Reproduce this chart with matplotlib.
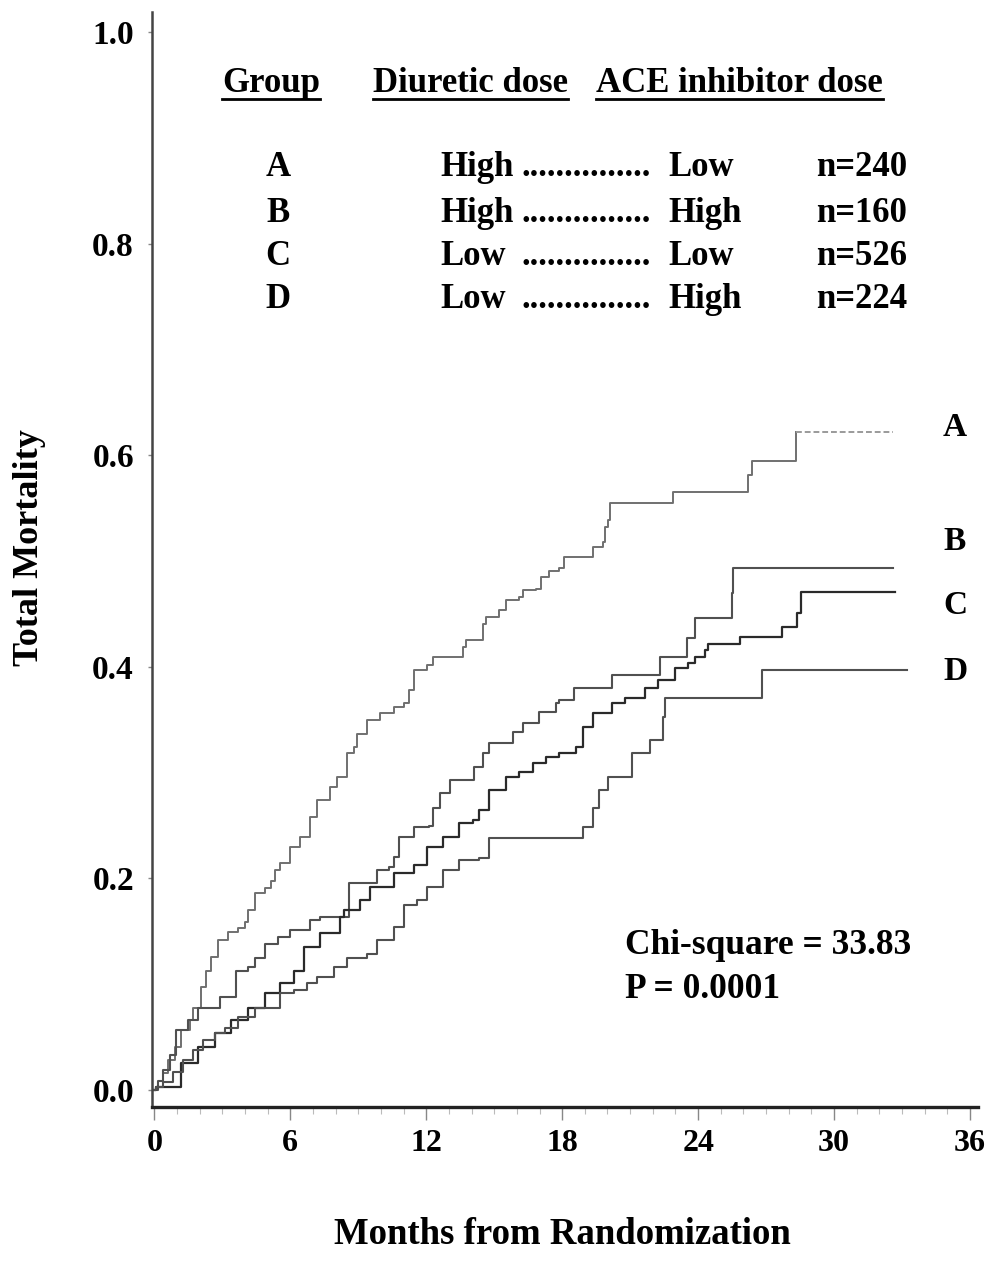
import matplotlib
matplotlib.use("Agg")
import matplotlib.pyplot as plt
from matplotlib.lines import Line2D
import numpy as np

plt.rcParams['font.family'] = ['Liberation Serif', 'DejaVu Serif']
plt.rcParams['font.weight'] = 'bold'

# ---------------- data (months, cumulative mortality) ----------------
a_t = [0, 0.09, 0.39, 0.61, 0.92, 1.18, 1.58, 1.71, 2.06, 2.28, 2.50, 2.81, 3.25, 3.68, 3.99,
       4.12, 4.43, 4.87, 5.13, 5.31, 5.57, 6.01, 6.45, 6.89, 7.19, 7.76, 8.07, 8.51, 8.82,
       8.95, 9.39, 9.96, 10.57, 11.01, 11.23, 11.45, 12.02, 12.32, 13.64, 13.77, 14.52,
       14.65, 15.22, 15.53, 16.10, 16.27, 16.84, 17.06, 17.41, 17.85, 18.07, 19.34, 19.78,
       19.91, 20.04, 20.13, 22.89, 26.18, 26.36, 28.33]
a_v = [0, 0.003, 0.016, 0.028, 0.041, 0.057, 0.066, 0.078, 0.097, 0.113, 0.126, 0.142, 0.149,
       0.153, 0.159, 0.170, 0.186, 0.191, 0.198, 0.208, 0.215, 0.230, 0.239, 0.258, 0.274,
       0.286, 0.296, 0.319, 0.324, 0.337, 0.350, 0.356, 0.362, 0.366, 0.378, 0.397, 0.402,
       0.409, 0.419, 0.425, 0.441, 0.447, 0.454, 0.463, 0.466, 0.473, 0.474, 0.485, 0.491,
       0.493, 0.504, 0.513, 0.518, 0.532, 0.539, 0.555, 0.565, 0.581, 0.595, 0.622]
a_end = 32.6

b_t = [0, 0.18, 0.39, 0.70, 0.96, 1.49, 1.93, 2.89, 3.60, 4.12, 4.43, 4.87, 5.44, 6.01, 6.89,
       7.32, 8.60, 9.82, 10.35, 10.57, 10.79, 11.45, 12.11, 12.32, 12.59, 13.03, 14.12,
       14.52, 14.78, 15.83, 16.27, 16.97, 17.72, 17.85, 18.51, 20.22, 22.32, 23.51, 23.86,
       25.48, 25.53]
b_v = [0, 0.009, 0.019, 0.033, 0.057, 0.066, 0.078, 0.088, 0.113, 0.116, 0.125, 0.138, 0.145,
       0.151, 0.161, 0.164, 0.196, 0.208, 0.211, 0.220, 0.239, 0.249, 0.250, 0.267, 0.281,
       0.293, 0.305, 0.319, 0.328, 0.338, 0.347, 0.357, 0.366, 0.369, 0.380, 0.392, 0.409,
       0.427, 0.446, 0.470, 0.493]
b_end = 32.6

c_t = [0, 0.09, 1.18, 1.93, 2.68, 3.38, 4.12, 4.87, 5.57, 6.18, 6.62, 7.32, 8.20, 8.38, 9.08,
       9.52, 10.57, 11.45, 12.02, 12.76, 13.46, 14.08, 14.34, 14.78, 15.53, 16.10, 16.71,
       17.28, 17.85, 18.60, 18.90, 19.34, 20.22, 20.79, 21.67, 22.24, 22.98, 23.55, 23.86,
       24.30, 24.43, 25.83, 27.68, 28.38, 28.55]
c_v = [0, 0.003, 0.026, 0.041, 0.054, 0.066, 0.078, 0.092, 0.101, 0.113, 0.135, 0.148, 0.164,
       0.170, 0.180, 0.192, 0.205, 0.213, 0.230, 0.239, 0.252, 0.255, 0.265, 0.284, 0.296,
       0.301, 0.309, 0.315, 0.319, 0.324, 0.343, 0.356, 0.366, 0.371, 0.380, 0.388, 0.399,
       0.404, 0.409, 0.416, 0.422, 0.428, 0.438, 0.451, 0.471]
c_end = 32.7

d_t = [0, 0.09, 0.39, 0.83, 1.27, 1.71, 2.15, 2.68, 3.11, 3.68, 4.43, 5.57, 6.18, 6.75, 7.19,
       7.94, 8.51, 9.39, 9.82, 10.57, 11.01, 11.58, 12.02, 12.76, 13.46, 14.34, 14.78,
       18.90, 19.34, 19.61, 20.04, 21.10, 21.89, 22.46, 22.54, 26.80]
d_v = [0, 0.003, 0.008, 0.017, 0.028, 0.038, 0.047, 0.054, 0.059, 0.069, 0.078, 0.092, 0.095,
       0.101, 0.107, 0.116, 0.125, 0.129, 0.142, 0.154, 0.175, 0.180, 0.192, 0.208, 0.217,
       0.219, 0.238, 0.249, 0.267, 0.284, 0.296, 0.319, 0.331, 0.353, 0.371, 0.397]
d_end = 33.2

groups = ['A', 'B', 'C', 'D']
diuretic = ['High', 'High', 'Low', 'Low']
ace = ['Low', 'High', 'Low', 'High']
n_sizes = [240, 160, 526, 224]
x_ticks = [0, 6, 12, 18, 24, 30, 36]
y_ticks = [0.0, 0.2, 0.4, 0.6, 0.8, 1.0]
chi_square = 33.83
p_value = '0.0001'

# ---------------- figure ----------------
W, H = 988, 1277
fig = plt.figure(figsize=(W / 100, H / 100), dpi=100)
ax = fig.add_axes([152 / W, 1 - 1107 / H, (978 - 152) / W, (1107 - 12) / H])

def fx(px):
    return px / W

def fy(py):
    return 1 - py / H

# A: solid until last jump, dotted tail (censored)
ax.step(a_t, a_v, where='post', color='#707070', lw=1.4)
ax.plot([a_t[-1], a_end], [a_v[-1], a_v[-1]], color='#9a9a9a', lw=1.4, ls=(0, (3, 1.5)))
ax.step(b_t + [b_end], b_v + [b_v[-1]], where='post', color='#505050', lw=1.5)
ax.step(c_t + [c_end], c_v + [c_v[-1]], where='post', color='#2a2a2a', lw=1.6)
ax.step(d_t + [d_end], d_v + [d_v[-1]], where='post', color='#505050', lw=1.5)

ax.set_xlim(-0.1, 36.35)
ax.set_ylim(-0.016, 1.019)
ax.spines['top'].set_visible(False)
ax.spines['right'].set_visible(False)
ax.spines['bottom'].set_linewidth(2.4)
ax.spines['left'].set_linewidth(1.8)
ax.spines['bottom'].set_color('#222222')
ax.spines['left'].set_color('#444444')

ax.set_xticks(x_ticks)
ax.set_xticklabels([str(t) for t in x_ticks])
ax.set_xticks(np.arange(0, 37, 1), minor=True)
ax.set_yticks(y_ticks)
ax.set_yticklabels([f'{v:.1f}' for v in y_ticks])
ax.tick_params(axis='x', which='major', direction='out', length=9, width=1.0,
               color='#888888', labelsize=23, pad=7)
ax.tick_params(axis='x', which='minor', direction='out', length=5, width=0.8,
               color='#bbbbbb')
ax.tick_params(axis='y', which='major', direction='out', length=3, width=1.0,
               color='#888888', labelsize=24, pad=10)
for lab in ax.get_xticklabels() + ax.get_yticklabels():
    lab.set_fontweight('bold')

fig.text(fx(30), fy(548), 'Total Mortality', rotation=90, ha='center', va='center',
         fontsize=26, fontweight='bold')
fig.text(fx(562), fy(1235), 'Months from Randomization', ha='center', va='center',
         fontsize=26.5, fontweight='bold')

# curve end labels
end_label_y = [428, 541, 606, 672]
for g, py in zip(groups, end_label_y):
    fig.text(fx(955), fy(py), g, ha='center', va='center', fontsize=24, fontweight='bold')

# header with underlines
headers = [('Group', 222), ('Diuretic dose', 373), ('ACE inhibitor dose', 596)]
htexts = []
for txt, px in headers:
    htexts.append(fig.text(fx(px), fy(92), txt, ha='left', va='baseline',
                           fontsize=25, fontweight='bold'))
fig.canvas.draw()
renderer = fig.canvas.get_renderer()
for t in htexts:
    bb = t.get_window_extent(renderer)
    fig.add_artist(Line2D([bb.x0 / W, bb.x1 / W], [fy(99), fy(99)],
                          transform=fig.transFigure, color='black', lw=2.0))

row_y = [168, 213, 256, 300]
for g, dz, ac, n, py in zip(groups, diuretic, ace, n_sizes, row_y):
    fig.text(fx(278), fy(py), g, ha='center', va='center', fontsize=25, fontweight='bold')
    fig.text(fx(440), fy(py), dz, ha='left', va='center', fontsize=25, fontweight='bold')
    fig.text(fx(521), fy(py), '...............', ha='left', va='center', fontsize=25,
             fontweight='bold')
    fig.text(fx(668), fy(py), ac, ha='left', va='center', fontsize=25, fontweight='bold')
    fig.text(fx(907), fy(py), f'n={n}', ha='right', va='center', fontsize=25,
             fontweight='bold')

fig.text(fx(625), fy(945), f'Chi-square = {chi_square:.2f}', ha='left', va='center',
         fontsize=25.5, fontweight='bold')
fig.text(fx(625), fy(990), f'P = {p_value}', ha='left', va='center',
         fontsize=25.5, fontweight='bold')

fig.savefig('out.png', dpi=100)
